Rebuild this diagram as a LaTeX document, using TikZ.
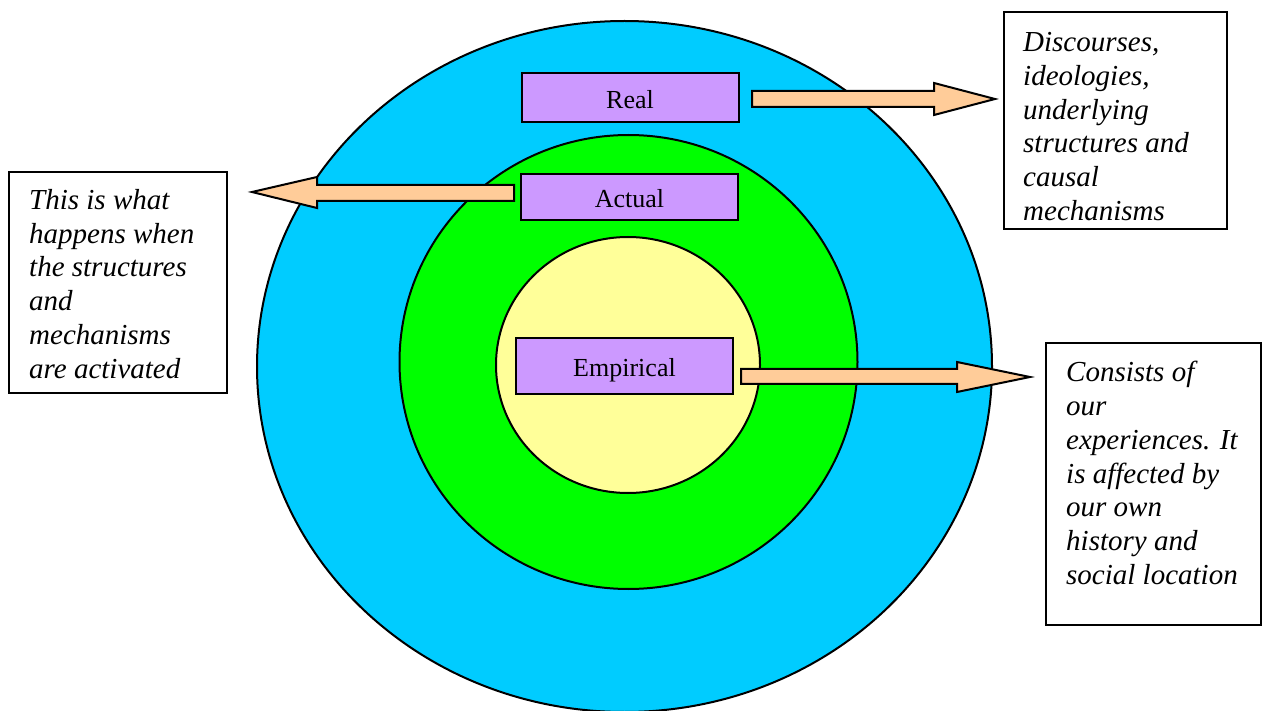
\documentclass[tikz,border=0pt]{standalone}
\usepackage{fontspec}
\setmainfont{Liberation Serif}
\usetikzlibrary{shapes.geometric}
\definecolor{realblue}{HTML}{00CCFF}
\definecolor{actgreen}{HTML}{00FF00}
\definecolor{empyellow}{HTML}{FFFF99}
\definecolor{labpurple}{HTML}{CC99FF}
\definecolor{arrowpeach}{HTML}{FFCC99}
\begin{document}
\begin{tikzpicture}[x=1pt,y=-1pt,
  ring/.style={ellipse, draw=black, line width=2pt, inner sep=0pt},
  labelbox/.style={draw=black, line width=2pt, fill=labpurple, inner sep=0pt, minimum width=217pt, text height=24pt, text depth=2pt, font=\fontsize{26}{30}\selectfont},
  notebox/.style={draw=black, line width=2pt, fill=white, inner sep=0pt},
  notetext/.style={anchor=north west, inner sep=0pt, align=left, font=\fontsize{29}{33.8}\selectfont\itshape},
  blockarrow/.style={draw=black, line width=2pt, fill=arrowpeach, line join=miter}
]
\useasboundingbox (0,0) rectangle (1262,711);
\begin{scope}
\clip (0,0) rectangle (1262,711);
\node[ring, fill=realblue, minimum width=735pt, minimum height=691pt] (realring) at (624.5,366.5) {};
\end{scope}
\node[ring, fill=actgreen, minimum width=458pt, minimum height=454pt] (actring) at (628.5,362) {};
\node[ring, fill=empyellow, minimum width=264pt, minimum height=256pt] (empring) at (628,365) {};

\node[labelbox, minimum height=49pt] (real) at (630,97.5) {Real};
\node[labelbox, minimum height=46pt] (actual) at (629.5,197) {Actual};
\node[labelbox, minimum height=56pt] (empirical) at (624.5,366) {Empirical};

% notes
\node[notebox, minimum width=218pt, minimum height=221pt] (leftnote) at (118,282.5) {};
\node[notebox, minimum width=223pt, minimum height=217pt] (topnote) at (1115.5,120.5) {};
\node[notebox, minimum width=215pt, minimum height=282pt] (botnote) at (1153.5,484) {};

\node[notetext] (lefttext) at (29,189) {This is what\\happens when\\the structures\\and\\mechanisms\\are activated};
\node[notetext] (toptext) at (1023,32) {Discourses,\\ideologies,\\underlying\\structures and\\causal\\mechanisms};
\node[notetext] (bottext) at (1066,361) {Consists of\\our\\experiences. It\\is affected by\\our own\\history and\\social location};

% arrows
\draw[blockarrow] (752,91) -- (934,91) -- (934,83) -- (995,99) -- (934,115) -- (934,107) -- (752,107) -- cycle;
\draw[blockarrow] (514,185) -- (317,185) -- (317,177) -- (252,192) -- (317,208) -- (317,201) -- (514,201) -- cycle;
\draw[blockarrow] (741,369) -- (957,369) -- (957,362) -- (1030,377) -- (957,392) -- (957,384) -- (741,384) -- cycle;
\end{tikzpicture}
\end{document}
